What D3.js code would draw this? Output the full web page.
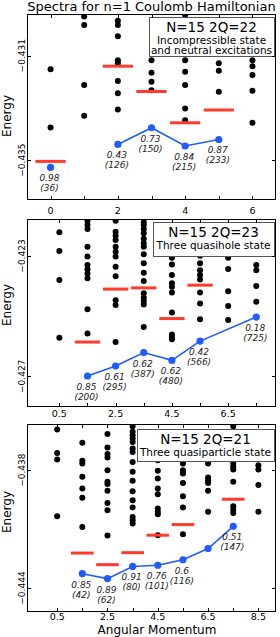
<!DOCTYPE html>
<html>
<meta charset="utf-8">
<head>
  <script src="https://d3js.org/d3.v7.min.js"></script>
  <style>
    body { margin: 0; background: #fff; }
    text { font-family: "DejaVu Sans", sans-serif; }
  </style>
</head>
<body>
<script>
  // ---- data ----
  // panel 1 : N=15 2Q=22
  var p1Spectrum = [
    [0, [-0.43152, -0.43375]],
    [1, [-0.42950, -0.42982, -0.43212, -0.43330]],
    [2, [-0.42966, -0.42982, -0.43025, -0.43117, -0.43129, -0.43197, -0.43244, -0.43306]],
    [3, [-0.43117, -0.43165, -0.43200, -0.43232]],
    [4, [-0.42944, -0.43117, -0.43161, -0.43212, -0.43302, -0.43347]],
    [5, [-0.43129, -0.43158, -0.43238]],
    [6, [-0.43117, -0.43140, -0.43174, -0.43234, -0.43357]]
  ]
  var p1RedL = [0, 2, 3, 4, 5]
  var p1RedE = [-0.43505, -0.43140, -0.43237, -0.43357, -0.43308]
  var p1BlueL = [0, 2, 3, 4, 5]
  var p1BlueE = [-0.43528, -0.43440, -0.43376, -0.43446, -0.43421]
  var p1LineL = [2, 3, 4, 5]
  var p1Overlap = ["0.98", "0.43", "0.73", "0.84", "0.87"]
  var p1Dim = ["36", "126", "150", "215", "233"]
  var p1XTicks = [0, 1, 2, 3, 4, 5, 6]
  var p1XLabels = [0, 2, 4, 6]
  var p1YTicks = [-0.431, -0.435]
  var p1Legend = ["N=15 2Q=22", "Incompressible state", "and neutral excitations"]

  // panel 2 : N=15 2Q=23
  var p2Spectrum = [
    [0.5, [-0.42221, -0.42283, -0.42380, -0.42572]],
    [1.5, [-0.42183, -0.42197, -0.42210, -0.42269, -0.42302, -0.42330, -0.42344, -0.42358, -0.42374, -0.42477, -0.42558]],
    [2.5, [-0.42183, -0.42219, -0.42233, -0.42247, -0.42269, -0.42286, -0.42302, -0.42336, -0.42367, -0.42447, -0.42463, -0.42586]],
    [3.5, [-0.42188, -0.42197, -0.42210, -0.42224, -0.42243, -0.42258, -0.42269, -0.42294, -0.42324, -0.42356, -0.42383, -0.42424, -0.42439, -0.42450, -0.42461, -0.42536]],
    [4.5, [-0.42306, -0.42328, -0.42363, -0.42391, -0.42402, -0.42421, -0.42488, -0.42561, -0.42569, -0.42577]],
    [5.5, [-0.42299, -0.42324, -0.42347, -0.42363, -0.42378, -0.42421, -0.42458, -0.42510]],
    [6.5, [-0.42306, -0.42343, -0.42417, -0.42466, -0.42513]],
    [7.5, [-0.42330, -0.42347, -0.42400, -0.42452]]
  ]
  var p2RedL = [1.5, 2.5, 3.5, 4.5, 5.5]
  var p2RedE = [-0.42586, -0.42410, -0.42406, -0.42508, -0.42397]
  var p2BlueL = [1.5, 2.5, 3.5, 4.5, 5.5, 7.5]
  var p2BlueE = [-0.42699, -0.42666, -0.42621, -0.42647, -0.42583, -0.42503]
  var p2LineL = [1.5, 2.5, 3.5, 4.5, 5.5, 7.5]
  var p2Overlap = ["0.85", "0.61", "0.62", "0.62", "0.42", "0.18"]
  var p2Dim = ["200", "295", "387", "480", "566", "725"]
  var p2XTicks = [0.5, 1.5, 2.5, 3.5, 4.5, 5.5, 6.5, 7.5]
  var p2XLabels = [0.5, 2.5, 4.5, 6.5]
  var p2YTicks = [-0.423, -0.427]
  var p2Legend = ["N=15 2Q=23", "Three quasihole state"]

  // panel 3 : N=15 2Q=21
  var p3Spectrum = [
    [0.5, [-0.43593, -0.43712, -0.43746, -0.44035]],
    [1.5, [-0.43661, -0.43752, -0.43766, -0.43834, -0.43893, -0.43941, -0.44089]],
    [2.5, [-0.43616, -0.43684, -0.43718, -0.43735, -0.43800, -0.43859, -0.43871, -0.43905, -0.43967, -0.44004, -0.44133]],
    [3.5, [-0.43576, -0.43605, -0.43622, -0.43639, -0.43656, -0.43690, -0.43707, -0.43758, -0.43808, -0.43854, -0.43907, -0.43953, -0.43990, -0.44038, -0.44055, -0.44072]],
    [4.5, [-0.43749, -0.43803, -0.43842, -0.43893, -0.43922, -0.43995, -0.44012, -0.44024, -0.44131]],
    [5.5, [-0.43766, -0.43800, -0.43817, -0.43865, -0.43933, -0.43990, -0.44126]],
    [6.5, [-0.43729, -0.43766, -0.43837, -0.43851, -0.43865, -0.43905, -0.44012]],
    [7.5, [-0.43576, -0.43766, -0.43783, -0.43797, -0.43859, -0.43984, -0.44001, -0.44018]],
    [8.5, [-0.43775, -0.43797, -0.43876, -0.44012]]
  ]
  var p3RedL = [1.5, 2.5, 3.5, 4.5, 5.5, 7.5]
  var p3RedE = [-0.44222, -0.44281, -0.44220, -0.44131, -0.44077, -0.43948]
  var p3BlueL = [1.5, 2.5, 3.5, 4.5, 5.5, 6.5, 7.5]
  var p3BlueE = [-0.44327, -0.44352, -0.44290, -0.44284, -0.44256, -0.44199, -0.44086]
  var p3LineL = [1.5, 2.5, 3.5, 4.5, 5.5, 6.5, 7.5]
  var p3Overlap = ["0.85", "0.89", "0.91", "0.76", "0.6", null, "0.51"]
  var p3Dim = ["42", "62", "80", "101", "116", null, "147"]
  var p3XTicks = [0.5, 1.5, 2.5, 3.5, 4.5, 5.5, 6.5, 7.5, 8.5]
  var p3XLabels = [0.5, 2.5, 4.5, 6.5, 8.5]
  var p3YTicks = [-0.438, -0.444]
  var p3Legend = ["N=15 2Q=21", "Three quasiparticle state"]

  var title = "Spectra for n=1 Coulomb Hamiltonian"
  var xTitle = "Angular Momentum"
  var yTitle = "Energy"

  // ---- drawing ----
  const RED = "#ff3b2e", BLUE = "#1f5cff"
  const left = 27, right = 276

  var svg = d3.select("body").append("svg").attr("width", 280).attr("height", 637)

  svg.append("text").attr("x", 151.5).attr("y", 10.5).attr("text-anchor", "middle")
    .style("font-size", "13px").text(title)

  function panel(id, lay, spectrum, redL, redE, blueL, blueE, lineL, overlap, dim, xTicks, xLabels, yTicks, legend) {
    var x = d3.scaleLinear().domain(lay.xdom).range([left, right])
    var y = d3.scaleLinear().domain(lay.ydom).range([lay.bottom, lay.top])
    var g = svg.append("g")

    g.append("clipPath").attr("id", "clip" + id).append("rect")
      .attr("x", left).attr("y", lay.top).attr("width", right - left).attr("height", lay.bottom - lay.top)
    var inner = g.append("g").attr("clip-path", "url(#clip" + id + ")")

    var dots = []
    spectrum.forEach(function(c) { c[1].forEach(function(e) { dots.push([c[0], e]) }) })
    inner.selectAll(".dot").data(dots).join("circle")
      .attr("cx", d => x(d[0])).attr("cy", d => y(d[1])).attr("r", 3).attr("fill", "#000")

    inner.selectAll(".red").data(redL).join("line")
      .attr("x1", d => x(d - 0.45)).attr("x2", d => x(d + 0.45))
      .attr("y1", (d, i) => y(redE[i])).attr("y2", (d, i) => y(redE[i]))
      .attr("stroke", RED).attr("stroke-width", 3)

    var lineData = lineL.map(l => [l, blueE[blueL.indexOf(l)]])
    inner.append("path").datum(lineData)
      .attr("d", d3.line().x(d => x(d[0])).y(d => y(d[1])))
      .attr("fill", "none").attr("stroke", BLUE).attr("stroke-width", 1.6)

    inner.selectAll(".blue").data(blueL).join("circle")
      .attr("cx", d => x(d)).attr("cy", (d, i) => y(blueE[i])).attr("r", 3.6).attr("fill", BLUE)

    blueL.forEach(function(l, i) {
      if (overlap[i] == null) return
      var t = g.append("text").attr("text-anchor", "middle")
        .style("font-size", "9px").style("font-style", "italic").attr("fill", "#222")
      t.append("tspan").attr("x", x(l) - 1).attr("y", y(blueE[i]) + 14).text(overlap[i])
      t.append("tspan").attr("x", x(l) - 1).attr("y", y(blueE[i]) + 24).text("(" + dim[i] + ")")
    })

    // legend box
    var lb = lay.legend
    g.append("rect").attr("x", lb.x + 0.5).attr("y", lb.y + 0.5).attr("width", lb.w).attr("height", lb.h)
      .attr("fill", "#fff").attr("stroke", "#555")
    var cx = lb.x + lb.w / 2
    g.append("text").attr("x", cx).attr("y", lb.y + 15).attr("text-anchor", "middle")
      .style("font-size", "13.5px").text(legend[0])
    legend.slice(1).forEach(function(s, i) {
      g.append("text").attr("x", cx).attr("y", lb.y + 26.5 + i * 10.7).attr("text-anchor", "middle")
        .style("font-size", "10.5px").text(s)
    })

    // frame
    g.append("rect").attr("x", left + 0.5).attr("y", lay.top + 0.5)
      .attr("width", right - left - 1).attr("height", lay.bottom - lay.top - 1)
      .attr("fill", "none").attr("stroke", "#000")

    // ticks inside, all four sides
    xTicks.forEach(function(t) {
      var px = Math.round(x(t)) + 0.5
      g.append("line").attr("x1", px).attr("x2", px).attr("y1", lay.bottom).attr("y2", lay.bottom - 4).attr("stroke", "#000")
      g.append("line").attr("x1", px).attr("x2", px).attr("y1", lay.top).attr("y2", lay.top + 4).attr("stroke", "#000")
    })
    yTicks.forEach(function(t) {
      var py = Math.round(y(t)) + 0.5
      g.append("line").attr("x1", left).attr("x2", left + 4).attr("y1", py).attr("y2", py).attr("stroke", "#000")
      g.append("line").attr("x1", right - 4).attr("x2", right).attr("y1", py).attr("y2", py).attr("stroke", "#000")
    })

    g.selectAll(".xl").data(xLabels).join("text")
      .attr("x", d => x(d)).attr("y", lay.xlabY).attr("text-anchor", "middle")
      .style("font-size", "9.5px").text(d => d)

    var fmt = d3.format(".3f")
    g.selectAll(".yl").data(yTicks).join("text")
      .attr("transform", d => "translate(25," + y(d) + ") rotate(-90)")
      .attr("text-anchor", "middle").style("font-size", "9px").text(d => fmt(d))

    g.append("text").attr("transform", "translate(11," + lay.ylabY + ") rotate(-90)")
      .attr("text-anchor", "middle").style("font-size", "12px").text(yTitle)
  }

  panel(1, {top: 14, bottom: 200, xdom: [-0.7, 6.7], ydom: [-0.43653, -0.42940], xlabY: 214, ylabY: 116,
            legend: {x: 149, y: 17, w: 125, h: 39}},
        p1Spectrum, p1RedL, p1RedE, p1BlueL, p1BlueE, p1LineL, p1Overlap, p1Dim, p1XTicks, p1XLabels, p1YTicks, p1Legend)
  panel(2, {top: 219, bottom: 407, xdom: [-0.65, 8.2], ydom: [-0.42802, -0.42177], xlabY: 417, ylabY: 305,
            legend: {x: 153, y: 222, w: 121, h: 34}},
        p2Spectrum, p2RedL, p2RedE, p2BlueL, p2BlueE, p2LineL, p2Overlap, p2Dim, p2XTicks, p2XLabels, p2YTicks, p2Legend)
  panel(3, {top: 424, bottom: 612, xdom: [-0.7, 9.2], ydom: [-0.44522, -0.43565], xlabY: 620, ylabY: 512,
            legend: {x: 137, y: 429, w: 137, h: 32}},
        p3Spectrum, p3RedL, p3RedE, p3BlueL, p3BlueE, p3LineL, p3Overlap, p3Dim, p3XTicks, p3XLabels, p3YTicks, p3Legend)

  svg.append("text").attr("x", 157).attr("y", 634).attr("text-anchor", "middle")
    .style("font-size", "12px").text(xTitle)
</script>
</body>
</html>
